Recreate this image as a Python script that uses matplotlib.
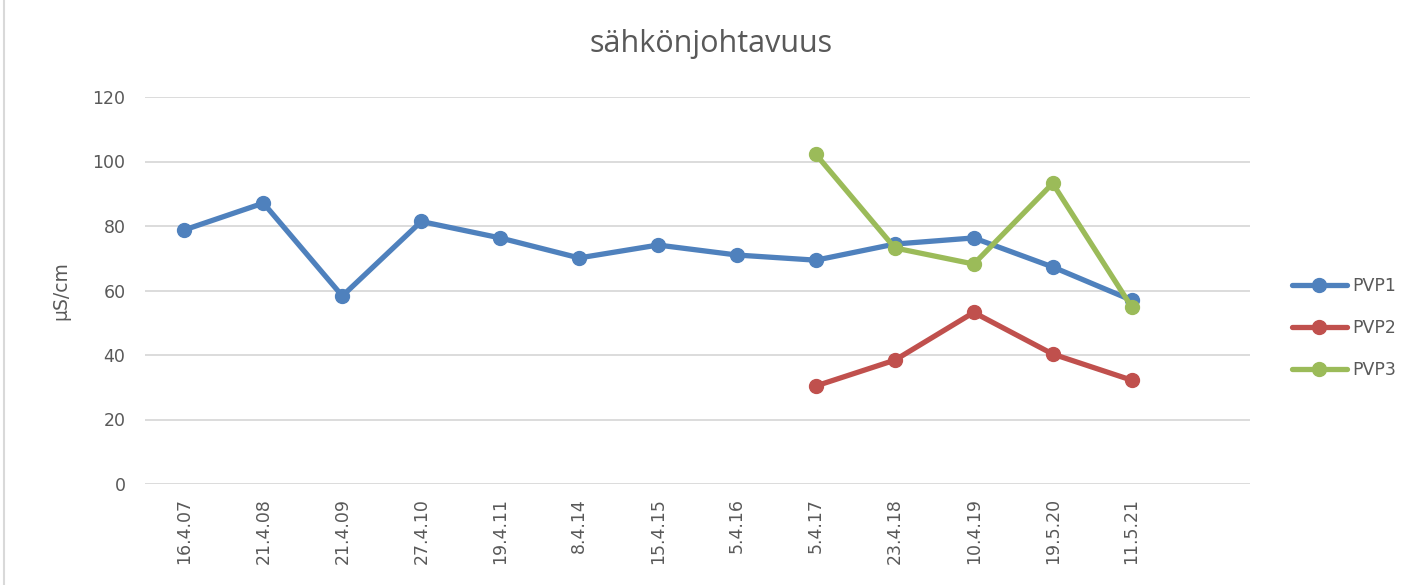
import matplotlib
matplotlib.use("Agg")
import matplotlib.pyplot as plt
from matplotlib.lines import Line2D
import numpy as np

categories = ["16.4.07", "21.4.08", "21.4.09", "27.4.10", "19.4.11", "8.4.14",
              "15.4.15", "5.4.16", "5.4.17", "23.4.18", "10.4.19", "19.5.20", "11.5.21", ""]
pvp1 = [78.8, 87.1, 58.3, 81.4, 76.3, 70.1, 74.1, 71.0, 69.4, 74.4, 76.3, 67.3, 57.0]
pvp2 = [None]*8 + [30.4, 38.4, 53.2, 40.3, 32.2]
pvp3 = [None]*8 + [102.2, 73.2, 68.2, 93.2, 54.9]

series = [("PVP1", pvp1, "#4F81BD"), ("PVP2", pvp2, "#C0504D"), ("PVP3", pvp3, "#9BBB59")]
text_color = "#595959"

fig = plt.figure(figsize=(14.22, 5.85), dpi=100)
ax = fig.add_axes([145/1422, 1-484/585, (1250-145)/1422, (484-97)/585])

x = np.arange(len(categories))
for name, vals, col in series:
    xs = [xi for xi, v in zip(x, vals) if v is not None]
    ys = [v for v in vals if v is not None]
    ax.plot(xs, ys, color=col, lw=3.8, marker="o", ms=10, label=name,
            solid_capstyle="round", solid_joinstyle="round", zorder=3)

ax.set_xlim(-0.5, len(categories) - 0.5)
ax.set_ylim(0, 120)
ax.set_yticks(range(0, 121, 20))
ax.grid(axis="y", color="#D9D9D9", lw=1.3)
ax.set_axisbelow(True)
for s in ax.spines.values():
    s.set_visible(False)
ax.tick_params(length=0, colors=text_color, labelsize=12.5)
ax.tick_params(axis="y", pad=14)
ax.set_xticks(x)
ax.set_xticklabels(categories, rotation=90, ha="center", va="top")
ax.tick_params(axis="x", pad=10)
ax.set_ylabel("µS/cm", color=text_color, fontsize=13.5, labelpad=16)

fig.text(0.5, 1-44/585, "sähkönjohtavuus", ha="center", va="center",
         fontsize=22, color=text_color, family="Open Sans")

leg = ax.legend(loc="center left", bbox_to_anchor=(1276/1422, 1-328/585),
                bbox_transform=fig.transFigure, frameon=False, fontsize=12.5,
                labelcolor=text_color, handlelength=3.2, labelspacing=1.4,
                handletextpad=0.3)

fig.add_artist(Line2D([4/1422, 4/1422], [0, 1], transform=fig.transFigure,
                      color="#D9D9D9", lw=1.5))

fig.savefig("out.png", dpi=100)
